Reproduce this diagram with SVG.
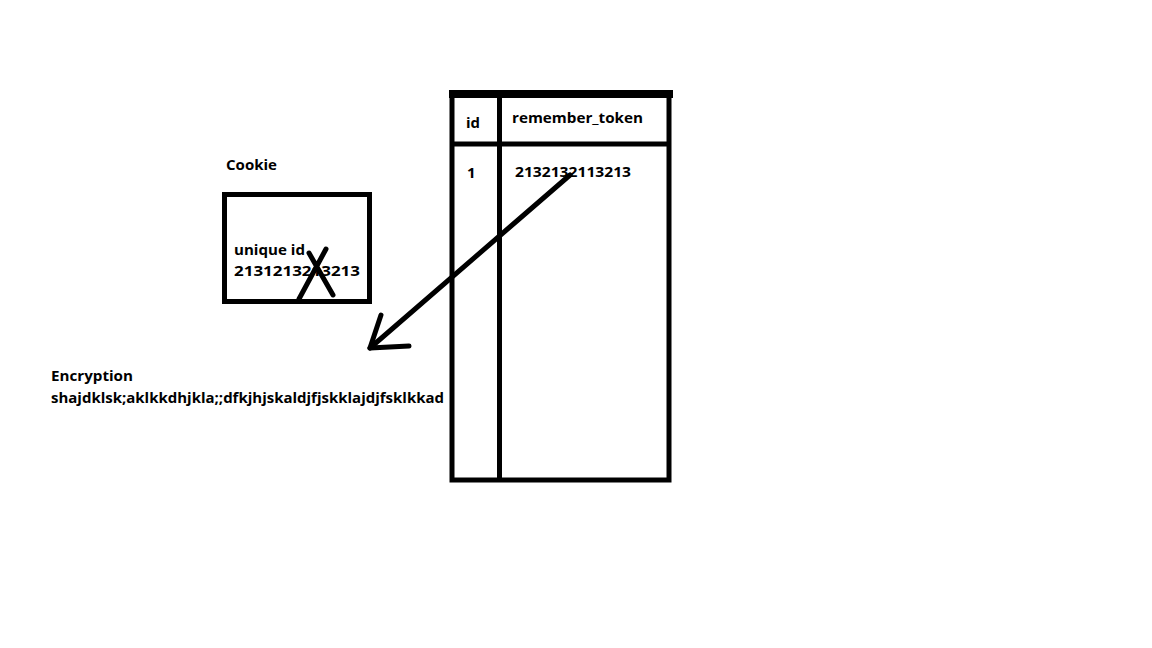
<svg xmlns="http://www.w3.org/2000/svg" width="1152" height="648" viewBox="0 0 1152 648">
<style>
.t{font-family:"Open Sans","Liberation Sans",sans-serif;font-weight:bold;font-size:15px;fill:#000}
.s{fill:none;stroke:#000;stroke-width:5}
.p{fill:none;stroke:#000;stroke-width:5;stroke-linecap:round;stroke-linejoin:round}
</style>
<rect width="1152" height="648" fill="#fff"/>
<g id="cookie">
<text class="t" x="226" y="170" textLength="51" lengthAdjust="spacingAndGlyphs">Cookie</text>
<rect class="s" x="224.5" y="194.5" width="145" height="107"/>
<text class="t" x="234" y="255" textLength="71" lengthAdjust="spacingAndGlyphs">unique id</text>
<text class="t" x="234" y="276" textLength="126" lengthAdjust="spacingAndGlyphs">2131213213213</text>
<path class="p" d="M326 249 L299 299 M309 253 L333 295"/>
</g>
<g id="table">
<rect x="449" y="90" width="224" height="8" fill="#000"/>
<rect class="s" x="452" y="94" width="217" height="386" stroke-width="6"/>
<line class="s" x1="499.5" y1="94" x2="499.5" y2="480" stroke-width="5"/>
<line class="s" x1="452" y1="144" x2="669" y2="144" stroke-width="6"/>
<text class="t" x="466" y="128" textLength="14" lengthAdjust="spacingAndGlyphs">id</text>
<text class="t" x="512" y="123" textLength="131" lengthAdjust="spacingAndGlyphs">remember_token</text>
<text class="t" x="467" y="178">1</text>
<text class="t" x="515" y="177" textLength="116" lengthAdjust="spacingAndGlyphs">2132132113213</text>
</g>
<g id="encryption">
<text class="t" x="51" y="381" textLength="82" lengthAdjust="spacingAndGlyphs">Encryption</text>
<text class="t" x="51" y="403" textLength="393" lengthAdjust="spacingAndGlyphs">shajdklsk;aklkkdhjkla;;dfkjhjskaldjfjskklajdjfsklkkad</text>
</g>
<g id="connectors">
<path class="p" d="M570 175 L370 348"/>
<path class="p" d="M381 315 L370 348 L409 346"/>
</g>
</svg>
